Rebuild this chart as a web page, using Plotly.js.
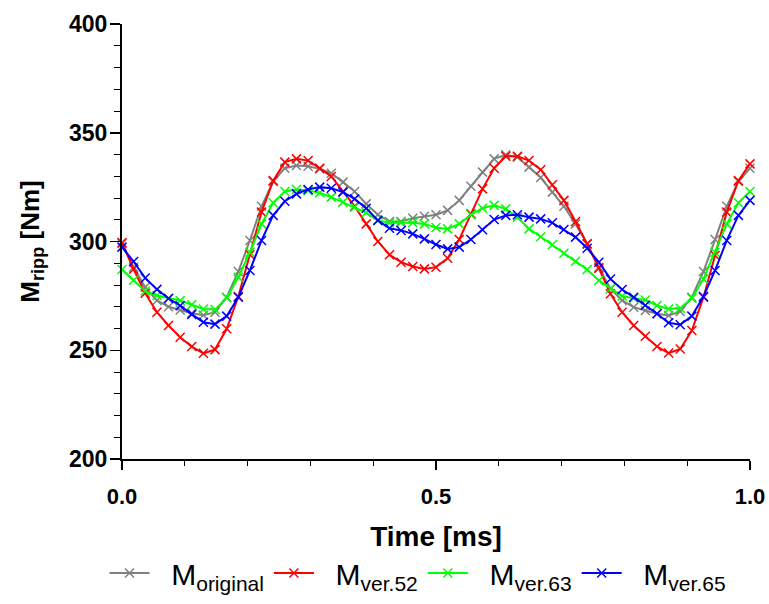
<!DOCTYPE html>
<html><head><meta charset="utf-8">
<script src="https://cdn.plot.ly/plotly-3.0.1.min.js"></script>
<style>html,body{margin:0;padding:0;background:#fff}</style>
</head><body><div id="chart" style="width:769px;height:604px"></div>
<script>
const time = [0, .0185, .0370, .0556, .0741, .0926, .1111, .1296, .1481, .1667, .1852, .2037, .2222, .2407, .2593, .2778, .2963, .3148, .3333, .3519, .3704, .3889, .4074, .4259, .4444, .4630, .4815, .5, .5185, .5370, .5556, .5741, .5926, .6111, .6296, .6481, .6667, .6852, .7037, .7222, .7407, .7593, .7778, .7963, .8148, .8333, .8519, .8704, .8889, .9074, .9259, .9444, .9630, .9815, 1];

const mOriginal = [299.0, 288.2, 279.0, 272.9, 270.0, 268.5, 267.0, 266.1, 267.5, 274.4,
  286.2, 300.5, 316.2, 327.6, 333.7, 334.9, 334.6, 333.4, 331.4, 327.3,
  323.0, 317.3, 312.3, 309.2, 309.2, 310.7, 311.6, 312.3, 314.3, 318.9,
  325.4, 331.9, 338.0, 339.9, 338.8, 334.2, 329.4, 322.7, 316.2, 308.1,
  298.9, 288.2, 278.3, 272.9, 269.8, 268.3, 266.8, 266.0, 267.8, 274.4,
  286.2, 300.9, 316.2, 327.6, 333.7];

const mVer52 = [299.5, 287.2, 276.2, 267.5, 261.4, 256.0, 251.7, 248.6, 250.3, 259.9,
  274.7, 293.9, 313.5, 328.0, 336.5, 338.0, 337.2, 333.7, 329.9, 323.0,
  316.2, 308.1, 300.0, 293.9, 290.5, 288.5, 287.4, 288.2, 292.3, 300.9,
  312.7, 324.2, 333.7, 339.2, 339.2, 337.2, 333.0, 326.1, 318.9, 309.2,
  298.9, 287.7, 276.0, 267.5, 261.4, 256.4, 251.7, 248.7, 250.6, 259.1,
  274.4, 293.6, 313.5, 328.0, 335.7];

const mVer63 = [287.1, 282.2, 277.2, 275.2, 273.9, 272.9, 270.9, 269.0, 268.7, 274.1,
  283.6, 295.1, 308.1, 317.8, 323.0, 323.9, 323.4, 322.4, 320.4, 318.1,
  315.8, 313.2, 309.7, 308.6, 308.6, 308.6, 308.1, 306.4, 305.8, 308.1,
  312.3, 315.3, 316.6, 315.0, 311.2, 305.8, 302.2, 298.5, 294.6, 290.9,
  287.1, 282.1, 278.3, 274.9, 273.9, 273.1, 270.6, 269.0, 269.3, 273.9,
  282.8, 295.1, 308.1, 317.8, 323.0];

const mVer65 = [297.4, 290.8, 283.2, 278.0, 273.8, 270.5, 266.5, 262.9, 262.0, 265.7,
  274.4, 286.7, 300.5, 312.0, 318.5, 321.9, 323.9, 325.0, 324.5, 322.7,
  319.6, 315.3, 309.7, 306.1, 305.1, 303.5, 301.2, 298.6, 296.6, 297.4,
  300.9, 305.4, 310.1, 312.0, 312.3, 311.2, 310.4, 308.6, 305.5, 302.0,
  296.9, 290.5, 282.8, 277.9, 274.4, 270.7, 266.8, 262.6, 261.7, 265.7,
  274.7, 286.7, 300.5, 312.0, 318.9];

const seriesNames = ['M<sub>original</sub>', 'M<sub>ver.52</sub>', 'M<sub>ver.63</sub>', 'M<sub>ver.65</sub>'];
const seriesColors = ['#808080', '#ff0000', '#00ff00', '#0000ff'];
const seriesData = [mOriginal, mVer52, mVer63, mVer65];

const xTickVals = [0, 0.5, 1];
const xTickText = ['0.0', '0.5', '1.0'];

const FONT = '"Liberation Sans", Arial, sans-serif';
const NB = '\u00a0';

const traces = seriesData.map((ys, k) => ({
  x: time, y: ys, name: NB + NB + seriesNames[k], type: 'scatter', mode: 'lines+markers',
  cliponaxis: false,
  line: {color: seriesColors[k], width: 2},
  marker: {symbol: 'x-thin', size: 9, color: seriesColors[k], line: {color: seriesColors[k], width: 1.5}}
}));

const layout = {
  width: 769, height: 604,
  margin: {l: 122, r: 19, t: 24, b: 145, autoexpand: false},
  paper_bgcolor: '#fff', plot_bgcolor: '#fff',
  font: {family: FONT, color: '#000'},
  showlegend: true,
  legend: {orientation: 'h', xref: 'container', x: 0.5436, xanchor: 'center',
           y: -0.262, yanchor: 'middle', itemwidth: 40,
           font: {size: 30, family: FONT, color: '#000'}, tracegroupgap: 0},
  xaxis: {
    range: [0, 1], tickvals: xTickVals, ticktext: xTickText,
    ticks: 'outside', ticklen: 9, tickwidth: 1.5, tickcolor: '#000',
    showline: true, linecolor: '#000', linewidth: 2, showgrid: false, zeroline: false,
    minor: {dtick: 0.1, ticks: 'outside', ticklen: 5, tickwidth: 1, tickcolor: '#000', showgrid: false},
    tickfont: {size: 22, weight: 'bold', family: FONT},
    ticklabelstandoff: 8,
    title: {text: 'Time [ms]', font: {size: 28, weight: 'bold', family: FONT}, standoff: 18}
  },
  xaxis2: {
    overlaying: 'x', anchor: 'y', side: 'bottom', range: [0, 1], tickvals: xTickVals,
    ticks: 'inside', ticklen: 9, tickwidth: 1.5, tickcolor: '#000',
    showticklabels: false, showline: false, showgrid: false, zeroline: false,
    minor: {dtick: 0.1, ticks: 'inside', ticklen: 5, tickwidth: 1, tickcolor: '#000', showgrid: false}
  },
  yaxis: {
    range: [200, 400], dtick: 50, tick0: 200,
    ticks: 'outside', ticklen: 10, tickwidth: 1.5, tickcolor: '#000',
    showline: true, linecolor: '#000', linewidth: 2, showgrid: false, zeroline: false,
    minor: {dtick: 10, ticks: 'outside', ticklen: 6, tickwidth: 1, tickcolor: '#000', showgrid: false},
    tickfont: {size: 23, weight: 'bold', family: FONT},
    ticklabelstandoff: -2,
    title: {text: 'M<sub>ripp</sub> [Nm]', font: {size: 26, weight: 'bold', family: FONT}, standoff: 22}
  }
};

Plotly.newPlot('chart', traces, layout, {displayModeBar: false, staticPlot: true});
</script>
</body></html>
